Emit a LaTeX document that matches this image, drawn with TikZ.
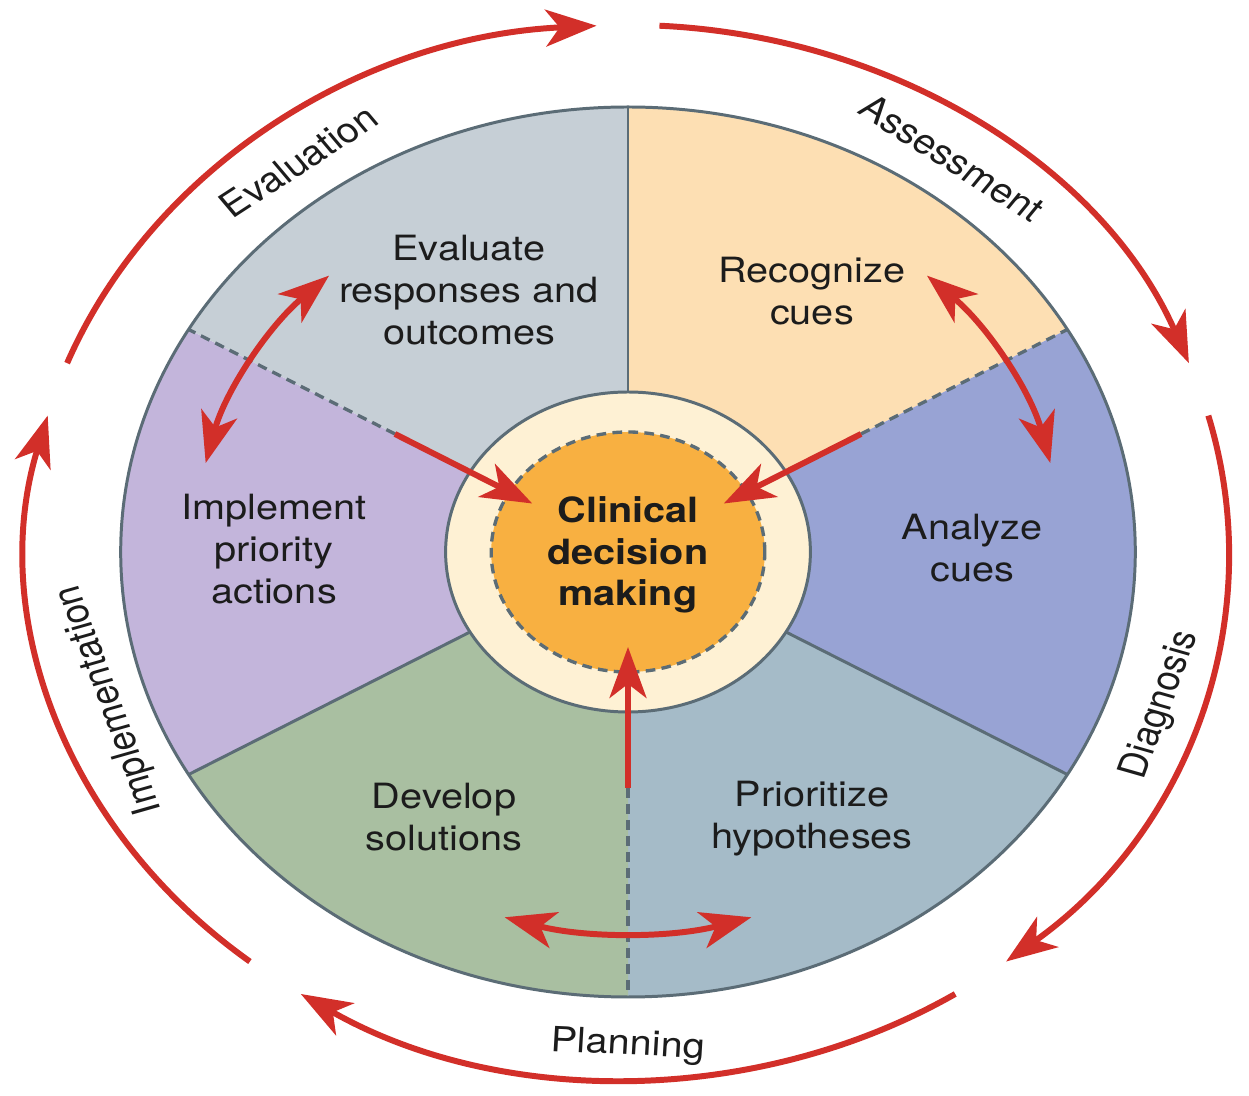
\documentclass[tikz,border=0pt]{standalone}
\usepackage{fontspec}
\setmainfont{TeX Gyre Heros}
\usetikzlibrary{arrows.meta}
\definecolor{cEval}{HTML}{C6CFD6}
\definecolor{cRec}{HTML}{FDDFB3}
\definecolor{cAna}{HTML}{98A3D4}
\definecolor{cPri}{HTML}{A5BBC8}
\definecolor{cDev}{HTML}{A9BFA1}
\definecolor{cImp}{HTML}{C3B5DB}
\definecolor{cream}{HTML}{FEF1D4}
\definecolor{orng}{HTML}{F8B041}
\definecolor{redc}{HTML}{D22F29}
\definecolor{slate}{HTML}{5B6C76}
\definecolor{ink}{HTML}{1C1C1C}
\begin{document}
\begin{tikzpicture}[x=0.02cm,y=0.02cm,
  rim/.style={draw=slate, line width=1.7pt},
  dashrim/.style={draw=slate, line width=1.9pt, dash pattern=on 5.5pt off 3.6pt},
  tip/.style={},
  redarrow/.style={draw=redc, line width=3.4pt, -{Stealth[length=29pt,width=21pt,inset=8pt]}},
  redboth/.style={draw=redc, line width=3.4pt, {Stealth[length=29pt,width=21pt,inset=8pt]}-{Stealth[length=29pt,width=21pt,inset=8pt]}},
  lbl/.style={text=ink, align=center, inner sep=0pt, font=\fontsize{19.8pt}{23.8pt}\selectfont},
  core/.style={text=ink, align=center, inner sep=0pt, font=\fontsize{19.8pt}{23.8pt}\selectfont\bfseries},
  outer/.style={text=ink, inner sep=0pt, font=\fontsize{19.8pt}{23.8pt}\selectfont}]
\fill[white] (0,0) rectangle (1249,1096);
\useasboundingbox (0,0) rectangle (1249,1096);
\begin{scope}[shift={(628,544)}, xscale=1.14, transform shape]
  % sectors
  \fill[cRec]  (0,0) -- (90:445)  arc[start angle=90,  end angle=30,  radius=445] -- cycle;
  \fill[cAna]  (0,0) -- (30:445)  arc[start angle=30,  end angle=-30, radius=445] -- cycle;
  \fill[cPri]  (0,0) -- (-30:445) arc[start angle=-30, end angle=-90, radius=445] -- cycle;
  \fill[cDev]  (0,0) -- (270:445) arc[start angle=270, end angle=210, radius=445] -- cycle;
  \fill[cImp]  (0,0) -- (210:445) arc[start angle=210, end angle=150, radius=445] -- cycle;
  \fill[cEval] (0,0) -- (150:445) arc[start angle=150, end angle=90,  radius=445] -- cycle;
  % boundaries
  \draw[rim] (90:160) -- (90:445);
  \draw[rim] (210:160) -- (210:445);
  \draw[rim] (330:160) -- (330:445);
  \draw[dashrim] (150:236) -- (150:445);
  \draw[dashrim] (30:236) -- (30:445);
  \draw[dashrim] (270:236) -- (270:445);
  \draw[rim] (0,0) circle[radius=445];
  % centre
  \filldraw[fill=cream, rim] (0,0) circle[radius=160];
  \fill[orng] (0,0) circle[radius=120];
  \draw[dashrim] (0,0) circle[radius=120];
  % texts
  \node[lbl] (tEval) at (-139.5,262) {Evaluate\\responses and\\outcomes};
  \node[lbl] (tRec) at (161.4,261) {Recognize\\cues};
  \node[lbl] (tImp) at (-310.5,3) {Implement\\priority\\actions};
  \node[lbl] (tAna) at (301.8,4) {Analyze\\cues};
  \node[lbl] (tDev) at (-161.4,-265) {Develop\\solutions};
  \node[lbl] (tPri) at (161.4,-267) {Prioritize\\hypotheses};
  \node[core] (tCore) at (0,-3) {Clinical\\decision\\making};
  % outer labels
  \node[outer, rotate=36.5] (lEval) at (126.5:486) {Evaluation};
  \node[outer, rotate=-35.8] (lAss) at (54.2:486) {Assessment};
  \node[outer, rotate=72] (lDiag) at (-18.1:492) {Diagnosis};
  \node[outer, rotate=-3] (lPlan) at (-90:494) {Planning};
  \node[outer, rotate=108] (lImpl) at (198:478) {Implementation};
  % inward arrows
  \coordinate (ulS) at (150:236); \coordinate (ulE) at (150:97);
  \coordinate (urS) at (30:236);  \coordinate (urE) at (30:97);
  \coordinate (btS) at (270:236); \coordinate (btE) at (270:95);
  \draw[redarrow] (ulS) -- (ulE);
  \draw[redarrow] (urS) -- (urE);
  \draw[redarrow] (btS) -- (btE);
  % double arrows between stages
  \draw[redboth] (166.5:381) arc[start angle=166.5, end angle=133.5, radius=381];
  \draw[redboth] (46.5:381) arc[start angle=46.5, end angle=13.5, radius=381];
  \draw[redboth] (253.5:381) arc[start angle=253.5, end angle=286.5, radius=381];
  % outer cycle arrows
  \foreach \s in {159,87,15,-57,-129}
    \draw[redarrow] (\s:527) arc[start angle=\s, end angle=\s-66, radius=527];
\end{scope}
\end{tikzpicture}
\end{document}
